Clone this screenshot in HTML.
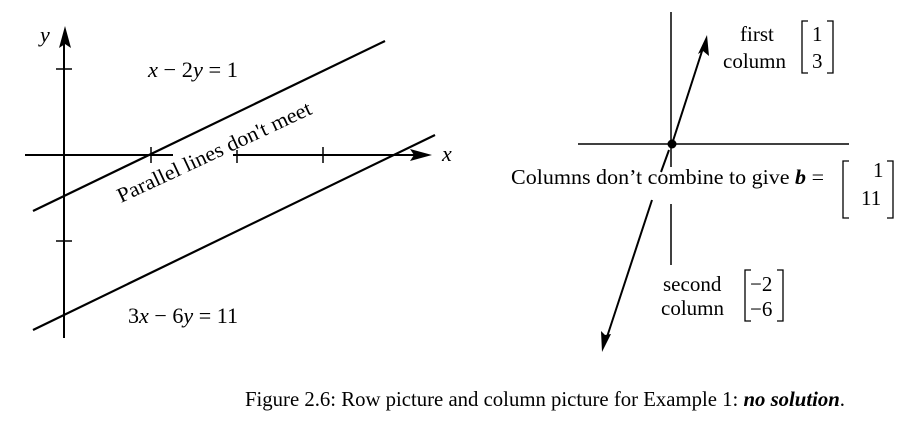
<!DOCTYPE html>
<html><head><meta charset="utf-8"><style>
html,body{margin:0;padding:0;background:#fff;}
svg{display:block;}
text{font-family:"Liberation Serif",serif;fill:#000;}
</style></head><body>
<svg width="901" height="421" viewBox="0 0 901 421" xmlns="http://www.w3.org/2000/svg">
<g stroke="#000" fill="none">
<line x1="64" y1="36" x2="64" y2="338" stroke-width="2"/>
<line x1="25" y1="155" x2="173" y2="155" stroke-width="2"/>
<line x1="233" y1="155" x2="420" y2="155" stroke-width="2"/>
<line x1="56" y1="69" x2="72" y2="69" stroke-width="1.5"/>
<line x1="56" y1="241" x2="72" y2="241" stroke-width="1.5"/>
<line x1="151" y1="147" x2="151" y2="163" stroke-width="1.5"/>
<line x1="237" y1="150" x2="237" y2="163" stroke-width="1.5"/>
<line x1="323" y1="147" x2="323" y2="163" stroke-width="1.5"/>
<line x1="33" y1="211" x2="385" y2="41" stroke-width="2.2"/>
<line x1="33" y1="330" x2="435" y2="135" stroke-width="2.2"/>
<line x1="671" y1="12" x2="671" y2="167" stroke-width="1.5"/>
<line x1="671" y1="204" x2="671" y2="265" stroke-width="1.5"/>
<line x1="578" y1="144" x2="849" y2="144" stroke-width="1.5"/>
<line x1="672" y1="144" x2="703" y2="48" stroke-width="2"/>
<line x1="669" y1="150" x2="661" y2="172" stroke-width="2"/>
<line x1="652" y1="200" x2="606" y2="340" stroke-width="2"/>
<path d="M808 21 H802 V73 H808 M827 21 H833 V73 H827" stroke-width="1.3"/>
<path d="M849 161 H843 V218 H849 M887 161 H893 V218 H887" stroke-width="1.3"/>
<path d="M751 270 H745 V321 H751 M777 270 H783 V321 H777" stroke-width="1.3"/>
</g>
<g fill="#000">
<polygon points="65,26 59,48 65,44 71,48"/>
<polygon points="432,155 410,149 414,155 410,161"/>
<polygon points="707,35 698,54 703,51 709,56"/>
<polygon points="602,352 601,331 605,335 611,334"/>
<circle cx="672" cy="144" r="4.5"/>
</g>
<text x="40" y="42" font-size="22" font-style="italic">y</text>
<text x="442" y="161" font-size="22" font-style="italic">x</text>
<text x="148" y="77" font-size="22" textLength="90" lengthAdjust="spacingAndGlyphs"><tspan font-style="italic">x</tspan> − 2<tspan font-style="italic">y</tspan> = 1</text>
<text x="128" y="323" font-size="22" textLength="110" lengthAdjust="spacingAndGlyphs">3<tspan font-style="italic">x</tspan> − 6<tspan font-style="italic">y</tspan> = 11</text>
<text x="0" y="0" font-size="21" transform="translate(121,203) rotate(-25)" textLength="212" lengthAdjust="spacingAndGlyphs">Parallel lines don't meet</text>
<text x="740" y="41" font-size="21">first</text>
<text x="723" y="68" font-size="21">column</text>
<text x="812" y="41" font-size="21">1</text>
<text x="812" y="68" font-size="21">3</text>
<text x="511" y="184" font-size="21" textLength="313" lengthAdjust="spacingAndGlyphs">Columns don’t combine to give <tspan font-weight="bold" font-style="italic">b</tspan> =</text>
<text x="873" y="177" font-size="21">1</text>
<text x="861" y="205" font-size="21">11</text>
<text x="663" y="291" font-size="21">second</text>
<text x="661" y="315" font-size="21">column</text>
<text x="750" y="291" font-size="21">−2</text>
<text x="750" y="316" font-size="21">−6</text>
<text x="245" y="406" font-size="21" textLength="600" lengthAdjust="spacingAndGlyphs">Figure 2.6: Row picture and column picture for Example 1: <tspan font-weight="bold" font-style="italic">no solution</tspan>.</text>
</svg>
</body></html>
